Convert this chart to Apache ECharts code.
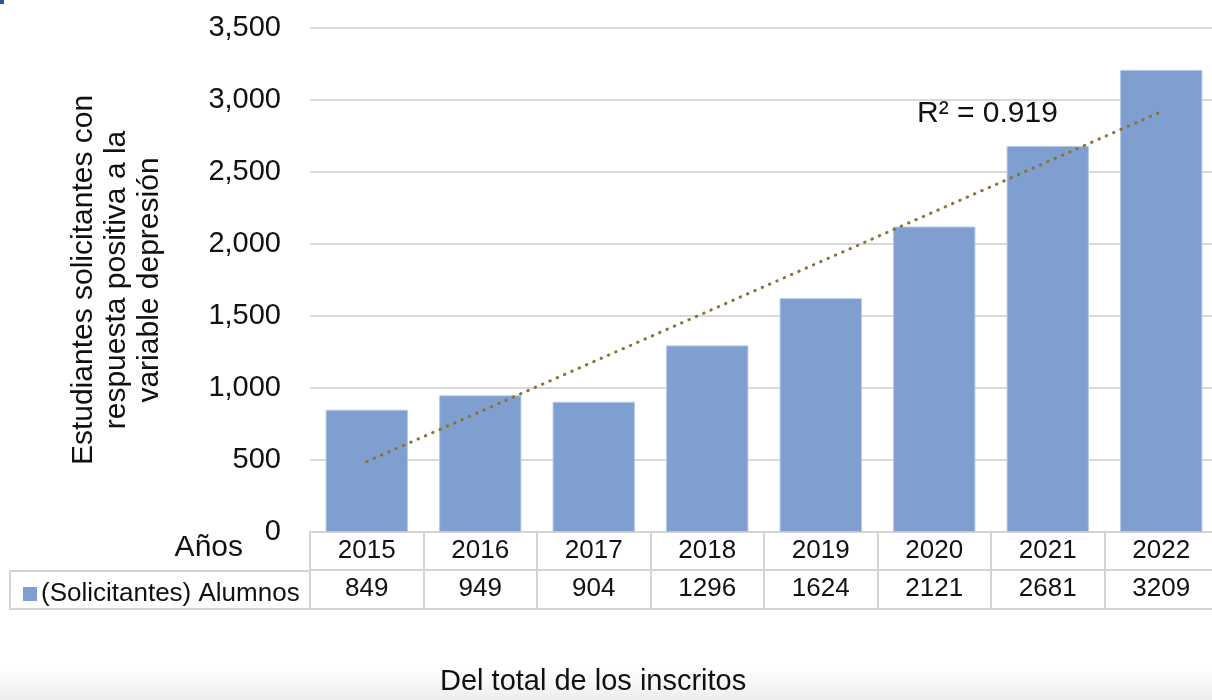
<!DOCTYPE html>
<html>
<head>
<meta charset="utf-8">
<script src="https://cdn.jsdelivr.net/npm/echarts@6/dist/echarts.min.js"></script>
<style>
html,body{margin:0;padding:0;background:#fff;overflow:hidden;}
#chart{width:1222px;height:700px;}
</style>
</head>
<body>
<div id="chart"></div>
<script>
// ---- data ----
const years = ['2015','2016','2017','2018','2019','2020','2021','2022'];
const alumnos = [849, 949, 904, 1296, 1624, 2121, 2681, 3209];
const seriesName = '(Solicitantes) Alumnos';
// trendline endpoints (linear fit, first & last category)
const trendStart = ['2015', 489];
const trendEnd = ['2022', 2919];
const rSquaredText = 'R² = 0.919';
const yTicks = [0, 500, 1000, 1500, 2000, 2500, 3000, 3500];
const yTitle = 'Estudiantes solicitantes con\nrespuesta positiva a la\nvariable depresión';
const rowHeader = 'Años';
const bottomTitle = 'Del total de los inscritos';

const FONT = '"Liberation Sans", Arial, sans-serif';
const BAR = '#7f9fd1';
const BORDER = '#d4d4d4';
const TXT = '#111';
const CHART_W = 1222;

const chart = echarts.init(document.getElementById('chart'), null, {renderer: 'canvas'});

const gridLeft = 310, gridTop = 28, gridBottom = 168;

const option = {
  animation: false,
  backgroundColor: '#fff',
  textStyle: {fontFamily: FONT},
  grid: {left: gridLeft, width: 908, top: gridTop, bottom: gridBottom, containLabel: false},
  legend: {
    data: [{name: seriesName, itemStyle: {borderWidth: 0, color: BAR}}],
    left: 18, top: 576,
    icon: 'rect', itemWidth: 14, itemHeight: 14, itemGap: 6,
    textStyle: {fontFamily: FONT, fontSize: 26, color: TXT, padding: [0,0,0,-1]},
    selectedMode: false
  },
  xAxis: [
    {
      type: 'category', data: years, position: 'bottom',
      axisLine: {show: true, lineStyle: {color: BORDER, width: 2}},
      axisTick: {show: true, length: 77, interval: 0, lineStyle: {color: BORDER, width: 2}},
      axisLabel: {fontFamily: FONT, fontSize: 26, color: TXT, margin: 6},
      splitLine: {show: false}
    },
    {
      type: 'category', data: alumnos.map(String), position: 'bottom', offset: 38,
      axisLine: {show: true, lineStyle: {color: BORDER, width: 2}},
      axisTick: {show: false},
      axisLabel: {fontFamily: FONT, fontSize: 26, color: TXT, margin: 6},
      splitLine: {show: false}
    },
    {
      type: 'category', data: years, position: 'bottom', offset: 77,
      axisLine: {show: true, lineStyle: {color: BORDER, width: 2}},
      axisTick: {show: false},
      axisLabel: {show: false},
      splitLine: {show: false}
    }
  ],
  yAxis: {
    type: 'value', min: yTicks[0], max: yTicks[yTicks.length - 1], interval: 500,
    name: yTitle, nameLocation: 'middle', nameRotate: 90, nameGap: 144,
    nameTextStyle: {fontFamily: FONT, fontSize: 30, color: TXT, lineHeight: 33, align: 'center'},
    axisLine: {show: false}, axisTick: {show: false},
    axisLabel: {
      fontFamily: FONT, fontSize: 29, color: TXT, margin: 29,
      formatter: v => v.toLocaleString('en-US')
    },
    splitLine: {show: true, lineStyle: {color: '#d9d9d9', width: 2}}
  },
  series: [
    {
      name: seriesName, type: 'bar', data: alumnos,
      xAxisIndex: 0,
      barCategoryGap: '27.5%',
      itemStyle: {color: BAR, borderColor: '#b3c7e6', borderWidth: 1},
      z: 2
    },
    {
      name: 'trend', type: 'line', xAxisIndex: 0,
      data: [trendStart, trendEnd],
      symbol: 'none',
      lineStyle: {color: '#8a7432', width: 3, type: [0.5, 7.5], cap: 'round'},
      z: 3
    }
  ],
  graphic: [
    {type: 'text', left: 917, top: 99, z: 100, style: {text: rSquaredText, font: '30px ' + FONT, fill: TXT}},
    {type: 'text', right: CHART_W - 243, top: 533, z: 100, style: {text: rowHeader, font: '30px ' + FONT, fill: TXT}},
    // left part of data table frame (legend cell)
    {type: 'line', shape: {x1: 10, y1: 571, x2: gridLeft, y2: 571}, style: {stroke: BORDER, lineWidth: 2}},
    {type: 'line', shape: {x1: 10, y1: 609, x2: gridLeft, y2: 609}, style: {stroke: BORDER, lineWidth: 2}},
    {type: 'line', shape: {x1: 10, y1: 570, x2: 10, y2: 610}, style: {stroke: BORDER, lineWidth: 2}},
    // faint shadow band at bottom
    {type: 'rect', left: 0, top: 668, shape: {width: CHART_W, height: 32}, z: -10,
      style: {fill: new echarts.graphic.LinearGradient(0, 0, 0, 1, [{offset: 0, color: '#ffffff'}, {offset: 1, color: '#ededed'}])}},
    {type: 'text', left: 440, top: 667, style: {text: bottomTitle, font: '29px ' + FONT, fill: TXT}},
    {type: 'rect', left: 0, top: 0, shape: {width: 4, height: 4}, style: {fill: '#2f5597'}}
  ]
};
chart.setOption(option);
</script>
</body>
</html>
